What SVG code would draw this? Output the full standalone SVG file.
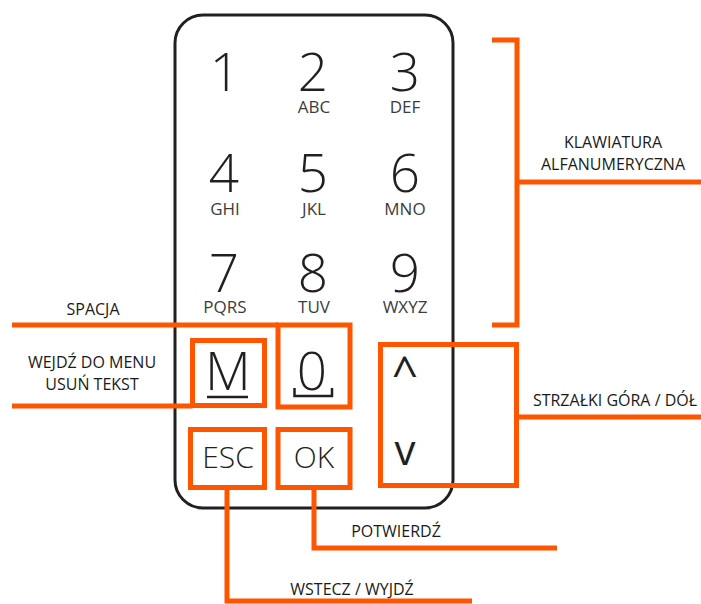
<svg xmlns="http://www.w3.org/2000/svg" width="701" height="604" viewBox="0 0 701 604">
<style>
.pad{fill:none;stroke:#231f20;stroke-width:3}
.box{fill:none;stroke:#ff5500;stroke-width:5}
.con{fill:none;stroke:#ff5500;stroke-width:5}
.dig{font-family:"Open Sans","Liberation Sans",sans-serif;font-weight:300;font-size:53px;fill:#231f20;text-anchor:middle}
.sub{font-family:"Open Sans","Liberation Sans",sans-serif;font-size:17px;fill:#3c3c3c;text-anchor:middle}
.key{font-family:"Open Sans","Liberation Sans",sans-serif;font-weight:300;font-size:30px;fill:#231f20;text-anchor:middle}
.arr{font-family:"Open Sans","Liberation Sans",sans-serif;font-weight:400;fill:#231f20;text-anchor:middle}
.lab{font-family:"Open Sans","Liberation Sans",sans-serif;font-size:16px;fill:#1a1a1a;text-anchor:middle}
</style>
<g id="keypad">
<rect class="pad" x="175" y="15" width="278" height="493" rx="28" ry="28"/>
<text class="dig" x="225" y="91">1</text>
<text class="dig" x="313" y="91">2</text><text class="sub" x="314" y="113">ABC</text>
<text class="dig" x="405" y="91">3</text><text class="sub" x="405" y="113">DEF</text>
<text class="dig" x="224" y="192">4</text><text class="sub" x="225" y="215">GHI</text>
<text class="dig" x="313" y="192">5</text><text class="sub" x="314" y="215">JKL</text>
<text class="dig" x="405" y="192">6</text><text class="sub" x="405" y="215">MNO</text>
<text class="dig" x="224" y="292">7</text><text class="sub" x="225" y="313">PQRS</text>
<text class="dig" x="313" y="292">8</text><text class="sub" x="314" y="313">TUV</text>
<text class="dig" x="405" y="292">9</text><text class="sub" x="405" y="313">WXYZ</text>
</g>
<g id="key-m">
<rect class="box" x="192.5" y="340.5" width="72" height="65"/>
<text class="dig" x="228" y="390">M</text>
<line x1="207" y1="397" x2="248" y2="397" stroke="#231f20" stroke-width="2.5"/>
</g>
<g id="key-0">
<rect class="box" x="278" y="325" width="72" height="82"/>
<text class="dig" x="312" y="390">0</text>
<path d="M294.5 388 V396 H332 V388" fill="none" stroke="#231f20" stroke-width="2.5"/>
</g>
<g id="key-esc">
<rect class="box" x="190.5" y="429.5" width="74" height="58"/>
<text class="key" x="228" y="468">ESC</text>
</g>
<g id="key-ok">
<rect class="box" x="278" y="429.5" width="72" height="58"/>
<text class="key" x="314" y="468">OK</text>
</g>
<g id="key-arrows">
<rect class="box" x="380.5" y="344.5" width="136" height="141"/>
<text class="arr" x="405" y="389" font-size="46">^</text>
<text class="arr" x="405" y="465" font-size="42">v</text>
</g>
<g id="connectors">
<path class="con" d="M492 40 H517 V325 H492"/>
<path class="con" d="M517 182 H701"/>
<path class="con" d="M517 417 H701"/>
<path class="con" d="M12 325 H278"/>
<path class="con" d="M12 406 H192.5"/>
<path class="con" d="M314 487.5 V548 H557"/>
<path class="con" d="M227 487.5 V601 H472"/>
</g>
<g id="labels">
<text class="lab" x="613" y="148">KLAWIATURA</text>
<text class="lab" x="613" y="170">ALFANUMERYCZNA</text>
<text class="lab" x="615" y="406">STRZAŁKI GÓRA / DÓŁ</text>
<text class="lab" x="93" y="315">SPACJA</text>
<text class="lab" x="92" y="368">WEJDŹ DO MENU</text>
<text class="lab" x="92" y="390">USUŃ TEKST</text>
<text class="lab" x="396" y="537">POTWIERDŹ</text>
<text class="lab" x="352" y="595">WSTECZ / WYJDŹ</text>
</g>
</svg>
